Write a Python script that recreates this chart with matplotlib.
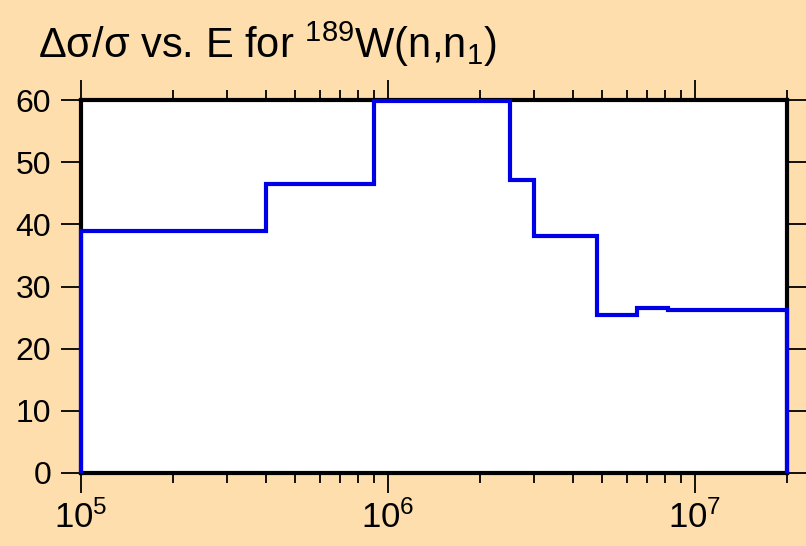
import matplotlib
matplotlib.use("Agg")
import matplotlib.pyplot as plt
import numpy as np
from matplotlib.ticker import LogLocator, FixedLocator, NullLocator

plt.rcParams['font.family'] = ['Liberation Sans', 'DejaVu Sans']
plt.rcParams['mathtext.fontset'] = 'custom'
plt.rcParams['mathtext.rm'] = 'Liberation Sans'
plt.rcParams['mathtext.it'] = 'Liberation Sans'
plt.rcParams['mathtext.default'] = 'regular'

# Data
energy_edges = [1e5, 4e5, 9e5, 2.5e6, 3.0e6, 4.8e6, 6.5e6, 8.2e6, 2e7]
rel_unc = [39.0, 46.5, 59.9, 47.2, 38.1, 25.4, 26.5, 26.3]
y_ticks = [0, 10, 20, 30, 40, 50, 60]

bg = '#FDDEAC'
fig = plt.figure(figsize=(8.06, 5.46), dpi=100, facecolor=bg)
ax = fig.add_axes([81/806, 1-473/546, (787-81)/806, (473-100)/546])
ax.set_facecolor('white')

ax.stairs(rel_unc, energy_edges, baseline=0, color='#0000E6', linewidth=3.0,
          zorder=5, clip_on=False)

ax.set_xscale('log')
ax.set_xlim(1e5, 2e7)
ax.set_ylim(0, 60)
ax.yaxis.set_major_locator(FixedLocator(y_ticks))
ax.yaxis.set_minor_locator(NullLocator())
ax.xaxis.set_major_locator(LogLocator(base=10, numticks=10))
ax.xaxis.set_minor_locator(LogLocator(base=10, subs=np.arange(2, 10), numticks=20))

for s in ax.spines.values():
    s.set_linewidth(3.0)
    s.set_zorder(4)

ax.tick_params(axis='both', which='major', direction='out', length=14.5, width=1.3,
               labelsize=23, color='black')
ax.tick_params(axis='y', which='major', pad=7)
ax.tick_params(axis='x', which='minor', direction='out', length=7, width=1.3)
ax.tick_params(axis='x', which='both', top=True, bottom=True)
ax.tick_params(axis='y', which='both', left=True, right=True)
ax.tick_params(axis='x', which='major', pad=5, labelsize=25)

fig.text(38/806, 1-58/546, 'Δσ/σ vs. E for $^{189}$W(n,n$_{1}$)', fontsize=30,
         ha='left', va='baseline', color='black')

fig.savefig('out.png', dpi=100, facecolor=bg)
